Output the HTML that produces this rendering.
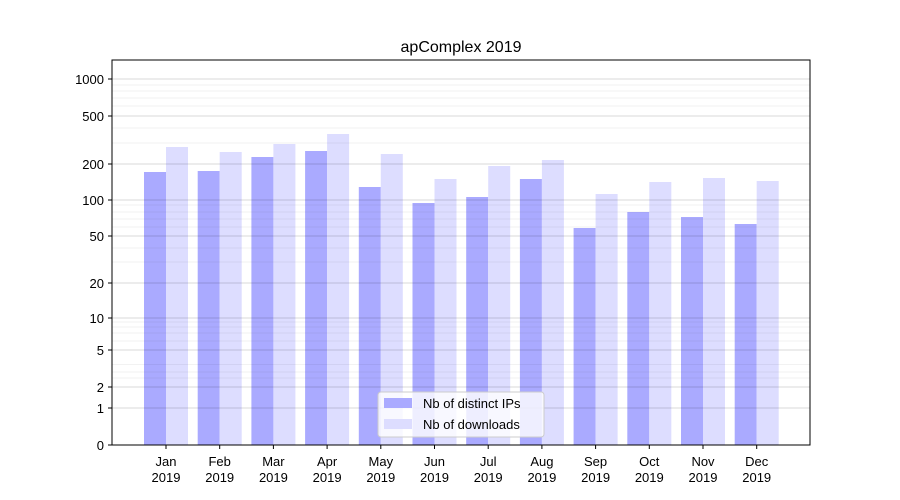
<!DOCTYPE html>
<html><head><meta charset="utf-8"><style>
body{margin:0;background:#fff;}
svg{display:block;font-family:"Liberation Sans","DejaVu Sans",sans-serif;}
</style></head><body>
<svg width="900" height="500" xmlns="http://www.w3.org/2000/svg">
<rect width="900" height="500" fill="#fff"/>
<g id="bars"></g>
<g stroke="#000" stroke-opacity="0.07" stroke-width="0.8">
<line x1="112" x2="810" y1="364.5" y2="364.5"/><line x1="112" x2="810" y1="372" y2="372"/><line x1="112" x2="810" y1="378" y2="378"/><line x1="112" x2="810" y1="341" y2="341"/><line x1="112" x2="810" y1="333" y2="333"/><line x1="112" x2="810" y1="327" y2="327"/><line x1="112" x2="810" y1="322" y2="322"/>
<line x1="112" x2="810" y1="262" y2="262"/><line x1="112" x2="810" y1="248" y2="248"/><line x1="112" x2="810" y1="227" y2="227"/><line x1="112" x2="810" y1="219" y2="219"/><line x1="112" x2="810" y1="212" y2="212"/><line x1="112" x2="810" y1="205" y2="205"/>
<line x1="112" x2="810" y1="143" y2="143"/><line x1="112" x2="810" y1="128" y2="128"/><line x1="112" x2="810" y1="106" y2="106"/><line x1="112" x2="810" y1="98" y2="98"/><line x1="112" x2="810" y1="91" y2="91"/><line x1="112" x2="810" y1="85" y2="85"/>
</g>
<g stroke="#000" stroke-opacity="0.2" stroke-width="0.8">
<line x1="112" x2="810" y1="408" y2="408"/><line x1="112" x2="810" y1="387" y2="387"/><line x1="112" x2="810" y1="350" y2="350"/><line x1="112" x2="810" y1="318" y2="318"/><line x1="112" x2="810" y1="283" y2="283"/><line x1="112" x2="810" y1="236" y2="236"/><line x1="112" x2="810" y1="200" y2="200"/><line x1="112" x2="810" y1="164" y2="164"/><line x1="112" x2="810" y1="116" y2="116"/><line x1="112" x2="810" y1="79" y2="79"/>
</g>
<rect x="112" y="60" width="698" height="385" fill="none" stroke="#000" stroke-width="1"/>
<text x="461" y="52" font-size="16" text-anchor="middle">apComplex 2019</text>
<g font-size="13" text-anchor="end" id="yt"></g>
<g font-size="13" text-anchor="middle" id="xt"></g>
<g>
<rect x="378" y="392" width="166" height="45" rx="3" fill="#fff" fill-opacity="0.8" stroke="#ccc"/>
<rect x="384" y="398" width="28" height="10" fill="#aaaaff"/>
<rect x="384" y="419" width="28" height="10" fill="#ddddff"/>
<text x="423" y="408" font-size="13">Nb of distinct IPs</text>
<text x="423" y="429" font-size="13">Nb of downloads</text>
</g>
<script>
var d=[172,171,157,151,187,203,197,179,228,212,217,224];
var l=[147,152,144,134,154,179,166,160,194,182,178,181];
var m=["Jan","Feb","Mar","Apr","May","Jun","Jul","Aug","Sep","Oct","Nov","Dec"];
var ns="http://www.w3.org/2000/svg",b=document.getElementById("bars"),xt=document.getElementById("xt"),yt=document.getElementById("yt");
function el(t,a,p,tx){var e=document.createElementNS(ns,t);for(var k in a)e.setAttribute(k,a[k]);if(tx!==undefined)e.textContent=String(tx);p.appendChild(e);return e;}
for(var i=0;i<12;i++){var c=166+i*53.7;
el("rect",{x:c-22,y:d[i],width:22,height:445-d[i],fill:"#aaaaff"},b);
el("rect",{x:c,y:l[i],width:22,height:445-l[i],fill:"#ddddff"},b);
el("line",{x1:c,x2:c,y1:445,y2:449,stroke:"#000"},xt);
el("text",{x:c,y:466},xt,m[i]);el("text",{x:c,y:482},xt,"2019");}
var ty=[[0,445],[1,408],[2,387],[5,350],[10,318],[20,283],[50,236],[100,200],[200,164],[500,116],[1000,79]];
ty.forEach(function(t){el("line",{x1:108,x2:112,y1:t[1],y2:t[1],stroke:"#000"},yt);el("text",{x:104,y:t[1]+5},yt,t[0]);});
</script>
</svg>
</body></html>
